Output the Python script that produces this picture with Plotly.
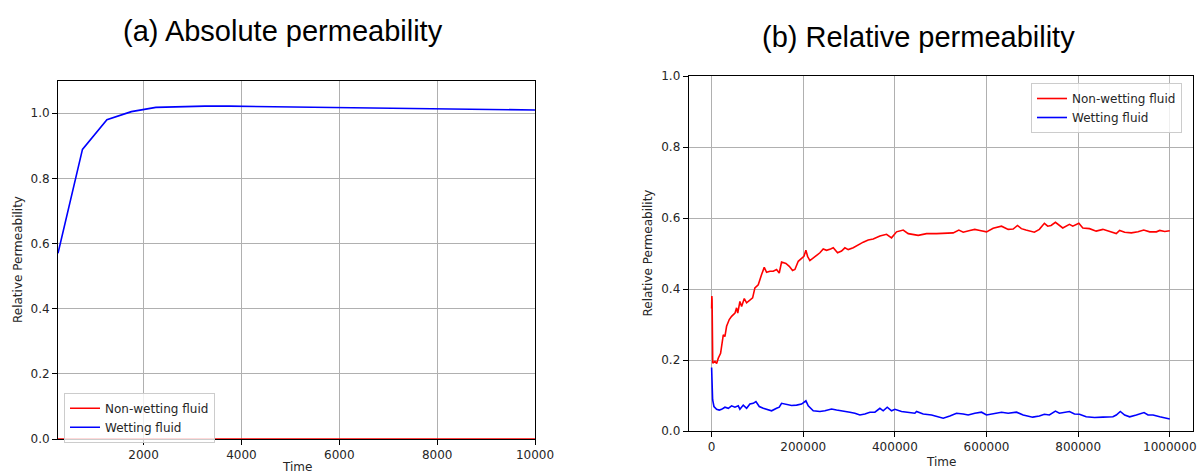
import plotly.graph_objects as go

# ---------------- (a) Absolute permeability ----------------
time_a = [250, 750, 1250, 1750, 2250, 2750, 3250, 3750, 4250, 4750, 5250,
          5750, 6250, 6750, 7250, 7750, 8250, 8750, 9250, 9750, 10000]
wet_a = [0.570, 0.889, 0.980, 1.005, 1.018, 1.021, 1.022, 1.022, 1.021, 1.020,
         1.019, 1.018, 1.017, 1.016, 1.015, 1.014, 1.013, 1.012, 1.011, 1.011, 1.010]
nonwet_a = [0.0] * len(time_a)

# ---------------- (b) Relative permeability ----------------
time_nw = [0, 500, 1000, 2500, 7300, 11000, 14500, 19600, 25500, 29000, 32700,
           38500, 43600, 51000, 54500, 57000, 61800, 65500, 71300, 76400, 83600,
           89500, 94500, 101800, 109100, 114900, 120000, 127300, 134500, 141800,
           147600, 152700, 162200, 169500, 176700, 181800, 189100, 196400, 201500,
           205800, 209500, 214500, 225500, 236400, 243600, 250900, 259600, 265500,
           274900, 283600, 290900, 298200, 309100, 320000, 330900, 341800, 352700,
           367300, 381800, 392700, 403600, 418200, 429100, 450900, 469100, 490900,
           512700, 527300, 539600, 549100, 563600, 574500, 585500, 600000, 614500,
           632700, 647300, 658200, 667600, 676000, 686000, 704400, 715300, 726300,
           733600, 740900, 750400, 759100, 766400, 781000, 788300, 801500, 810200,
           824800, 839400, 854000, 868600, 883200, 890500, 901500, 916100, 930700,
           943100, 956200, 970800, 978100, 989000, 1000000]
nonwet_b = [0.345, 0.380, 0.370, 0.191, 0.196, 0.190, 0.205, 0.219, 0.271, 0.266, 0.295,
            0.314, 0.323, 0.332, 0.347, 0.332, 0.365, 0.351, 0.373, 0.361, 0.370,
            0.375, 0.403, 0.412, 0.441, 0.461, 0.447, 0.450, 0.450, 0.455,
            0.445, 0.476, 0.472, 0.464, 0.452, 0.455, 0.478, 0.485, 0.492,
            0.509, 0.492, 0.480, 0.492, 0.502, 0.513, 0.509, 0.513, 0.516,
            0.502, 0.507, 0.516, 0.511, 0.516, 0.525, 0.532, 0.538, 0.541,
            0.549, 0.554, 0.544, 0.561, 0.566, 0.556, 0.551, 0.556, 0.556,
            0.556, 0.558, 0.566, 0.560, 0.565, 0.568, 0.565, 0.561, 0.571,
            0.577, 0.568, 0.569, 0.579, 0.570, 0.566, 0.560, 0.568, 0.585,
            0.577, 0.579, 0.588, 0.579, 0.572, 0.582, 0.577, 0.585, 0.572,
            0.570, 0.563, 0.568, 0.561, 0.556, 0.565, 0.560, 0.558, 0.561,
            0.566, 0.561, 0.561, 0.565, 0.562, 0.564]

time_w = [0, 700, 2200, 5100, 10900, 16700, 21800, 29100, 36400, 43600, 50900,
          58200, 61800, 69100, 76400, 83600, 90900, 96700, 104000, 112700, 123600,
          130900, 141800, 147600, 152700, 163600, 174500, 185500, 196400, 205800,
          210900, 221800, 236400, 247300, 261800, 272700, 287300, 301800, 312700,
          323600, 334500, 345500, 356400, 367300, 374500, 383300, 392700, 400000,
          414500, 429100, 443600, 447300, 461800, 480000, 494500, 505500, 520000,
          534500, 549100, 560000, 574500, 589100, 600000, 614500, 632700, 647300,
          665500, 680000, 694500, 700700, 715300, 726300, 737200, 750400, 759100,
          770100, 781000, 792000, 802900, 817500, 835800, 854000, 875900, 883200,
          892000, 901500, 912400, 927000, 943800, 952500, 963500, 978100, 989000,
          1000000]
wet_b = [0.179, 0.125, 0.088, 0.069, 0.061, 0.059, 0.061, 0.067, 0.064, 0.071, 0.067,
         0.071, 0.061, 0.073, 0.064, 0.076, 0.078, 0.083, 0.069, 0.064, 0.061,
         0.057, 0.064, 0.067, 0.078, 0.075, 0.072, 0.073, 0.076, 0.085,
         0.071, 0.057, 0.055, 0.057, 0.062, 0.059, 0.057, 0.053, 0.050,
         0.045, 0.048, 0.053, 0.053, 0.064, 0.057, 0.067, 0.057, 0.061,
         0.055, 0.052, 0.050, 0.055, 0.048, 0.045, 0.039, 0.036, 0.042,
         0.050, 0.048, 0.045, 0.050, 0.053, 0.045, 0.048, 0.053, 0.050,
         0.053, 0.045, 0.040, 0.039, 0.042, 0.047, 0.045, 0.056, 0.050,
         0.052, 0.055, 0.048, 0.047, 0.040, 0.038, 0.039, 0.040, 0.045,
         0.055, 0.045, 0.040, 0.045, 0.052, 0.045, 0.045, 0.040, 0.036,
         0.034]

xticks_a = [2000, 4000, 6000, 8000, 10000]
xticks_b = [0, 200000, 400000, 600000, 800000, 1000000]
yticks = [0.0, 0.2, 0.4, 0.6, 0.8, 1.0]
series_names = ["Non-wetting fluid", "Wetting fluid"]
titles = ["(a) Absolute permeability", "(b) Relative permeability"]
x_title = "Time"
y_title = "Relative Permeability"

RED = "#ff0000"
BLUE = "#0000ff"
W, H = 1197, 475
TICKFONT = dict(family="DejaVu Sans", size=12, color="#262626")

fig = go.Figure()
fig.add_trace(go.Scatter(x=time_a, y=nonwet_a, mode="lines", name=series_names[0],
                         line=dict(color=RED, width=1.6), xaxis="x", yaxis="y",
                         legend="legend", cliponaxis=False))
fig.add_trace(go.Scatter(x=time_a, y=wet_a, mode="lines", name=series_names[1],
                         line=dict(color=BLUE, width=1.6), xaxis="x", yaxis="y",
                         legend="legend"))
fig.add_trace(go.Scatter(x=time_nw, y=nonwet_b, mode="lines", name=series_names[0],
                         line=dict(color=RED, width=1.6), xaxis="x2", yaxis="y2",
                         legend="legend2"))
fig.add_trace(go.Scatter(x=time_w, y=wet_b, mode="lines", name=series_names[1],
                         line=dict(color=BLUE, width=1.6), xaxis="x2", yaxis="y2",
                         legend="legend2"))

def px_x(p):
    return p / W

def px_y(p):
    return 1 - p / H

axis_common = dict(showline=True, mirror=True, linecolor="#000000", linewidth=1,
                   ticks="outside", ticklen=5, tickwidth=1, tickcolor="#000000",
                   showgrid=True, gridcolor="#b0b0b0", gridwidth=0.8,
                   zeroline=False, tickfont=TICKFONT, automargin=False)

fig.update_layout(
    width=W, height=H,
    margin=dict(l=0, r=0, t=0, b=0, pad=0),
    paper_bgcolor="white", plot_bgcolor="white",
    xaxis=dict(domain=[px_x(58), px_x(535)], range=[250, 10000],
               tickvals=xticks_a, ticktext=[str(v) for v in xticks_a],
               anchor="y", layer="below traces", **axis_common),
    yaxis=dict(domain=[px_y(439), px_y(80.7)], range=[0, 1.1],
               tickvals=yticks, ticktext=["%.1f" % v for v in yticks],
               anchor="x", **axis_common),
    xaxis2=dict(domain=[px_x(688.7), px_x(1192.7)], range=[-50000, 1050000],
                tickvals=xticks_b, ticktext=[str(v) for v in xticks_b],
                anchor="y2", **axis_common),
    yaxis2=dict(domain=[px_y(431), px_y(76)], range=[0, 1.0],
                tickvals=yticks, ticktext=["%.1f" % v for v in yticks],
                anchor="x2", **axis_common),
    legend=dict(x=px_x(64), y=px_y(392.7), xanchor="left", yanchor="top",
                bgcolor="rgba(255,255,255,0.8)", bordercolor="#cccccc", borderwidth=1,
                font=dict(family="DejaVu Sans", size=12, color="#262626"),
                tracegroupgap=0),
    legend2=dict(x=px_x(1031), y=px_y(83), xanchor="left", yanchor="top",
                 bgcolor="rgba(255,255,255,0.8)", bordercolor="#cccccc", borderwidth=1,
                 font=dict(family="DejaVu Sans", size=12, color="#262626"),
                 tracegroupgap=0),
    showlegend=True,
)

annots = [
    dict(text=titles[0], x=px_x(283), y=px_y(31), font=dict(family="Liberation Sans", size=29, color="#000000")),
    dict(text=titles[1], x=px_x(918), y=px_y(37), font=dict(family="Liberation Sans", size=29, color="#000000")),
    dict(text=x_title, x=px_x(296.5), y=px_y(467), font=dict(family="DejaVu Sans", size=12, color="#262626")),
    dict(text=x_title, x=px_x(940.7), y=px_y(462), font=dict(family="DejaVu Sans", size=12, color="#262626")),
    dict(text=y_title, x=px_x(18), y=px_y(260), textangle=-90, font=dict(family="DejaVu Sans", size=12, color="#262626")),
    dict(text=y_title, x=px_x(647), y=px_y(253.5), textangle=-90, font=dict(family="DejaVu Sans", size=12, color="#262626")),
]
for a in annots:
    fig.add_annotation(xref="paper", yref="paper", showarrow=False,
                       xanchor="center", yanchor="middle", **a)

fig.write_html("out.html",
               config={"displayModeBar": False},
               post_script="document.body.style.margin='0';document.body.style.padding='0';"
                           "document.documentElement.style.overflow='hidden';")
